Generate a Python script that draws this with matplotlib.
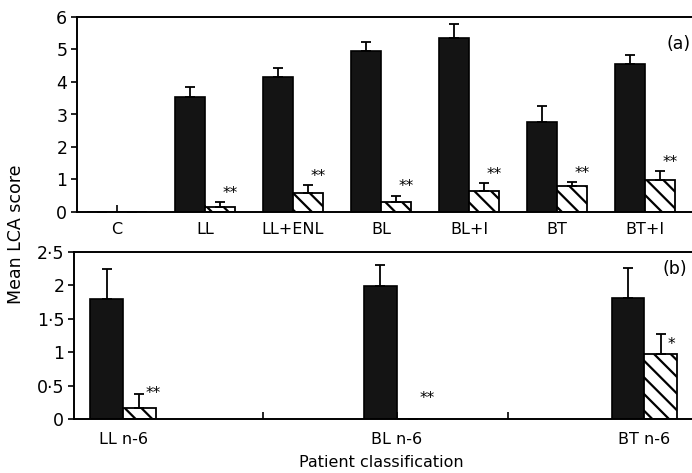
import matplotlib
matplotlib.use("Agg")
import matplotlib.pyplot as plt
import numpy as np

plt.rcParams['font.family'] = ['DejaVu Sans']
plt.rcParams['hatch.linewidth'] = 1.6

# panel (a): all patient groups
groups_a = ["C", "LL", "LL+ENL", "BL", "BL+I", "BT", "BT+I"]
black_a = [0, 3.55, 4.14, 4.95, 5.36, 2.77, 4.55]
black_err_a = [np.nan, 0.30, 0.28, 0.28, 0.41, 0.49, 0.28]
hatch_a = [0, 0.16, 0.58, 0.31, 0.66, 0.79, 0.97]
hatch_err_a = [np.nan, 0.14, 0.24, 0.19, 0.23, 0.12, 0.28]
stars_a = ["", "**", "**", "**", "**", "**", "**"]

# panel (b): n=6 subsets
groups_b = ["LL n-6", "BL n-6", "BT n-6"]
black_b = [1.79, 1.99, 1.81]
black_err_b = [0.45, 0.32, 0.45]
hatch_b = [0.17, 0, 0.98]
hatch_err_b = [0.20, np.nan, 0.29]
stars_b = ["**", "**", "*"]
star_y_b = [0.38, 0.30, 1.12]

# layout of panel b (hand-drawn original, slightly uneven spacing)
pos_b = [0, 2.09, 3.98]
minor_ticks_b = [1.07, 2.94]

W, H = 692, 473
fig = plt.figure(figsize=(W / 100, H / 100), dpi=100)

def px_axes(left, top, bottom, right=700):
    return fig.add_axes([left / W, 1 - bottom / H, (right - left) / W, (bottom - top) / H])

ax_a = px_axes(77, 17, 212)
ax_b = px_axes(74, 252, 419)

def style(ax, lw=1.4):
    for s in ax.spines.values():
        s.set_linewidth(lw)
    ax.spines['right'].set_visible(False)
    ax.tick_params(axis='y', direction='out', length=4, width=1.2, labelsize=12.5, pad=3)
    ax.tick_params(axis='x', direction='in', length=5, width=1.2, labelsize=11.5)

def draw_bars(ax, pos, black, berr, hatch, herr, w):
    pos = np.asarray(pos, dtype=float)
    ax.bar(pos - w / 2, black, w, color='#141414', edgecolor='black', linewidth=1.2, zorder=2)
    ax.bar(pos + w / 2, hatch, w, color='white', edgecolor='black', hatch='\\\\',
           linewidth=1.3, zorder=2)
    zeros = np.zeros(len(pos))
    ax.errorbar(pos - w / 2, black, yerr=[zeros, berr], fmt='none', ecolor='black',
                elinewidth=1.3, capsize=3.5, capthick=1.3, zorder=3)
    ax.errorbar(pos + w / 2, hatch, yerr=[zeros, herr], fmt='none', ecolor='black',
                elinewidth=1.3, capsize=3.5, capthick=1.3, zorder=3)

# ---- panel a
wa = 0.34
pos_a = np.arange(len(groups_a))
draw_bars(ax_a, pos_a, black_a, black_err_a, hatch_a, hatch_err_a, wa)
style(ax_a)
ax_a.set_xlim(-0.455, (700 - 117) / 88)
ax_a.set_ylim(0, 6)
ax_a.set_yticks(range(7))
ax_a.set_xticks(pos_a)
ax_a.set_xticklabels(groups_a)
ax_a.tick_params(axis='x', pad=7)
for p, h, e, s in zip(pos_a, hatch_a, hatch_err_a, stars_a):
    if s:
        ax_a.text(p + wa / 2 + 0.03, h + e + 0.27, s, ha='left', va='center', fontsize=11)
ax_a.text(0.965, 0.86, "(a)", transform=ax_a.transAxes, fontsize=12.5, ha='center', va='center')

# ---- panel b
wb = 0.25
draw_bars(ax_b, pos_b, black_b, black_err_b, hatch_b, hatch_err_b, wb)
style(ax_b)
ax_b.set_xlim((74 - 123) / 131, (700 - 123) / 131)
ax_b.set_ylim(0, 2.5)
ax_b.set_yticks([0, 0.5, 1, 1.5, 2, 2.5])
ax_b.set_yticklabels(["0", "0\u00b75", "1", "1\u00b75", "2", "2\u00b75"])
ax_b.set_xticks(pos_b)
ax_b.set_xticklabels(groups_b)
ax_b.set_xticks(minor_ticks_b, minor=True)
ax_b.tick_params(axis='x', which='minor', direction='in', length=5, width=1.2)
ax_b.tick_params(axis='x', pad=9)
for p, y, s in zip(pos_b, star_y_b, stars_b):
    ax_b.text(p + wb / 2 + 0.05, y, s, ha='left', va='center', fontsize=11)
ax_b.text(0.96, 0.9, "(b)", transform=ax_b.transAxes, fontsize=12.5, ha='center', va='center')

fig.text(16 / W, 1 - 234 / H, "Mean LCA score", rotation=90, ha='center', va='center', fontsize=12.5)
fig.text(381 / W, 1 - 462 / H, "Patient classification", ha='center', va='center', fontsize=11.5)

fig.savefig("out.png", dpi=100)
